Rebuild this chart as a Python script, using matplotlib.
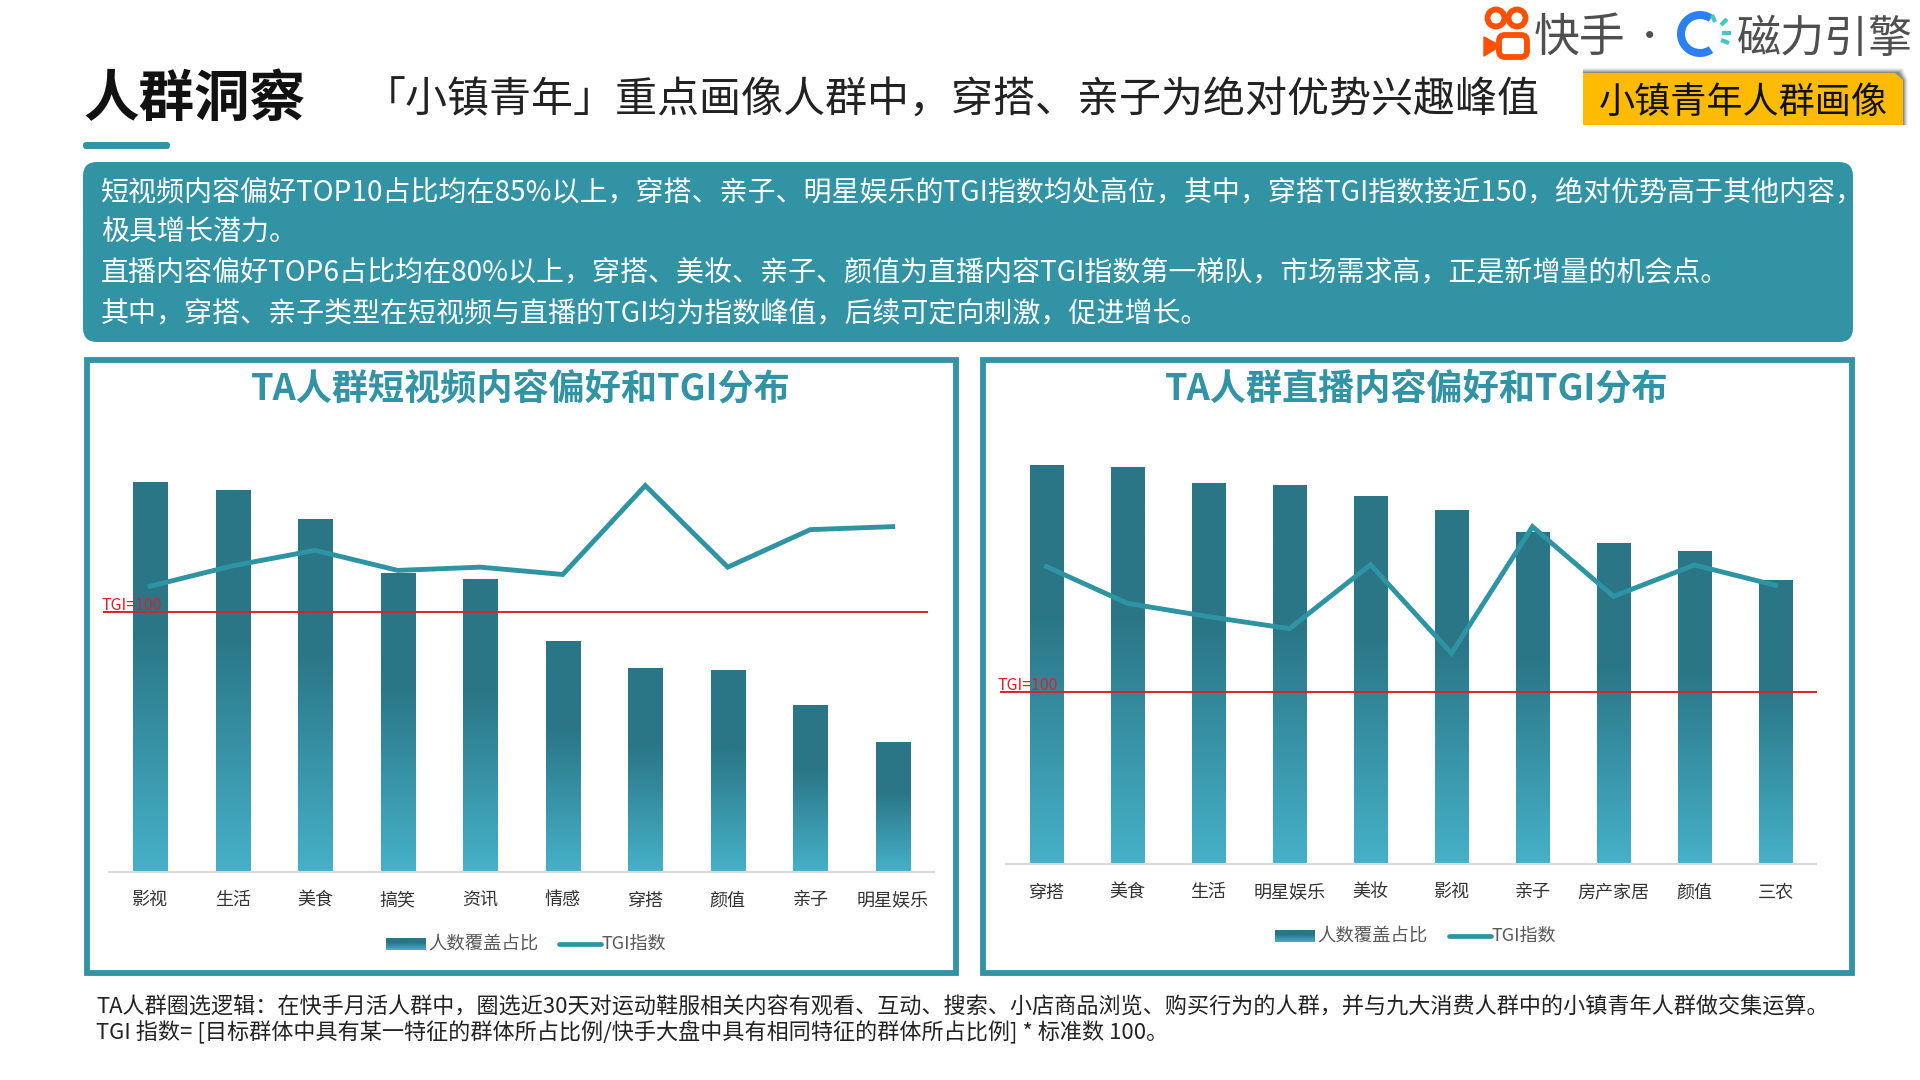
import numpy as np
import matplotlib
matplotlib.use('Agg')
import matplotlib.pyplot as plt
from matplotlib.colors import LinearSegmentedColormap
from matplotlib.patches import Circle, FancyBboxPatch, Polygon, Rectangle, Wedge

plt.rcParams['font.family'] = ['Noto Sans CJK SC', 'DejaVu Sans']

W, H = 1920, 1080
TEAL = '#3293A5'
LINE = '#2E93A3'
RED = '#D9222A'

# Data
short_cats = ['影视', '生活', '美食', '搞笑', '资讯', '情感', '穿搭', '颜值', '亲子', '明星娱乐']
short_share = [97.4, 95.4, 88.1, 74.6, 73.1, 57.6, 50.8, 50.3, 41.6, 32.4]
short_tgi = [109.5, 117.0, 122.7, 115.3, 116.5, 113.8, 146.5, 116.5, 130.3, 131.4]

live_cats = ['穿搭', '美食', '生活', '明星娱乐', '美妆', '影视', '亲子', '房产家居', '颜值', '三农']
live_share = [99.5, 99.1, 95.0, 94.5, 91.8, 88.3, 82.9, 80.0, 78.0, 70.8]
live_tgi = [137.6, 126.6, 122.6, 119.0, 138.2, 111.6, 149.6, 128.7, 138.1, 132.0]

body_lines = [
    '短视频内容偏好TOP10占比均在85%以上，穿搭、亲子、明星娱乐的TGI指数均处高位，其中，穿搭TGI指数接近150，绝对优势高于其他内容，',
    '极具增长潜力。',
    '直播内容偏好TOP6占比均在80%以上，穿搭、美妆、亲子、颜值为直播内容TGI指数第一梯队，市场需求高，正是新增量的机会点。',
    '其中，穿搭、亲子类型在短视频与直播的TGI均为指数峰值，后续可定向刺激，促进增长。',
]
foot_lines = [
    'TA人群圈选逻辑：在快手月活人群中，圈选近30天对运动鞋服相关内容有观看、互动、搜索、小店商品浏览、购买行为的人群，并与九大消费人群中的小镇青年人群做交集运算。',
    'TGI 指数= [目标群体中具有某一特征的群体所占比例/快手大盘中具有相同特征的群体所占比例] * 标准数 100。',
]

bar_cmap = LinearSegmentedColormap.from_list(
    'bar', [(0, '#2A7686'), (0.38, '#2A7686'), (1, '#46B1C8')])
grad = np.linspace(0, 1, 256).reshape(-1, 1)

fig = plt.figure(figsize=(W / 100, H / 100), dpi=100, facecolor='white')

# Full page layer in pixel coordinates, for the slide furniture
page = fig.add_axes([0, 0, 1, 1])
page.set_xlim(0, W)
page.set_ylim(H, 0)
page.axis('off')


def round_box(x0, y0, x1, y1, r, color):
    page.add_patch(FancyBboxPatch((x0 + r, y0 + r), x1 - x0 - 2 * r, y1 - y0 - 2 * r,
                                  boxstyle='round,pad=%d,rounding_size=%d' % (r, r),
                                  fc=color, ec='none'))


# Header
page.text(83, 100, '人群洞察', fontsize=40, fontweight='bold', color='#111111', va='center')
page.text(364, 101, '「小镇青年」重点画像人群中，穿搭、亲子为绝对优势兴趣峰值',
          fontsize=30.25, color='#222222', va='center')
round_box(83, 142, 170, 149, 3, TEAL)

# Badge with a soft shadow along the top
for i, a in zip([5, 4, 3, 2, 1], [0.08, 0.12, 0.18, 0.25, 0.35]):
    page.add_patch(Polygon([(1583, 73 - i), (1898 + i, 73 - i), (1903 + i, 80), (1903 + i, 125), (1583, 125)],
                           fc='#555555', ec='none', alpha=a))
page.add_patch(Polygon([(1583, 73), (1895, 73), (1903, 80), (1903, 125), (1583, 125)], fc='#FFBB00', ec='none'))
page.text(1743, 103, '小镇青年人群画像', fontsize=26, color='#111111', ha='center', va='center')

# Kuaishou logo
ORANGE = '#FF5000'
page.add_patch(Circle((1496, 18), 8.5, fc='none', ec=ORANGE, lw=4.2))
page.add_patch(Circle((1517, 18), 8.5, fc='none', ec=ORANGE, lw=4.2))
page.add_patch(FancyBboxPatch((1502, 38), 22, 16, boxstyle='round,pad=3,rounding_size=6', fc='white', ec=ORANGE, lw=4.2))
page.add_patch(Polygon([(1484, 37), (1484, 56), (1497, 48), (1497, 44)], fc=ORANGE, ec=ORANGE, lw=1, joinstyle='round'))
page.text(1534, 38, '快手', fontsize=33, color='#4F4F4F', va='center', fontweight='medium')
page.text(1650, 38, '·', fontsize=24, color='#4F4F4F', ha='center', va='center')

# Cili engine logo
page.add_patch(Wedge((1700, 34), 23, 55, 305, width=8, fc='#2A80F0', ec='none'))
for x0, y0, x1, y1 in [(1712, 15, 1715, 22), (1727, 19, 1721, 25), (1731, 33, 1722, 33), (1729, 43, 1721, 40)]:
    page.plot([x0, x1], [y0, y1], color='#45C7C0', lw=3, solid_capstyle='butt')
page.text(1737, 39, '磁力引擎', fontsize=31.7, color='#4F4F4F', va='center', fontweight='medium')

# Summary box
round_box(83, 162, 1853, 342, 14, TEAL)
for y, s in zip([193, 233, 273, 314], body_lines):
    page.text(101, y, s, fontsize=20.2, color='white', va='center')

# Footnote
for y, s in zip([1008, 1033], foot_lines):
    page.text(96, y, s, fontsize=15.9, color='#222222', va='center')


def draw_legend(swatch_x, line_x, y):
    page.imshow(bar_cmap(grad), extent=[swatch_x, swatch_x + 40, y + 6, y - 6], aspect='auto', zorder=2)
    page.text(swatch_x + 42, y, '人数覆盖占比', fontsize=13.2, color='#595959', va='center')
    page.plot([line_x, line_x + 42], [y, y], color=LINE, lw=3.4, solid_capstyle='round')
    page.text(line_x + 43, y, 'TGI指数', fontsize=13, color='#595959', va='center')


def draw_panel(frame, plot_x, baseline, title, cats, share, tgi, tgi_lim, red_x, red_y, bar_w):
    fx0, fx1 = frame
    page.add_patch(Rectangle((fx0 + 3, 360), fx1 - fx0 - 6, 612.5, fc='none', ec=TEAL, lw=4.2))
    page.text((fx0 + fx1) / 2 - 1, 389, title, fontsize=26, fontweight='bold', color=TEAL, ha='center', va='center')

    # Chart axes, 440 px tall above the baseline
    ax = fig.add_axes([plot_x[0] / W, 1 - baseline / H, (plot_x[1] - plot_x[0]) / W, 440 / H])
    ax.patch.set_alpha(0)
    x = np.arange(len(cats))
    bars = ax.bar(x, share, width=bar_w, color='none', linewidth=0)
    for b in bars:
        ax.imshow(bar_cmap(grad), extent=[b.get_x(), b.get_x() + b.get_width(), 0, b.get_height()],
                  aspect='auto', zorder=1)
    ax.set_xlim(-0.5, len(cats) - 0.5)
    ax.set_ylim(0, 110)
    ax.set_xticks(x)
    ax.set_xticklabels(cats, fontsize=13, color='#333333')
    ax.tick_params(axis='x', length=0, pad=14)
    ax.set_yticks([])
    for side in ['top', 'left', 'right']:
        ax.spines[side].set_visible(False)
    ax.spines['bottom'].set_color('#D9D9D9')
    ax.spines['bottom'].set_linewidth(1.5)

    ax2 = ax.twinx()
    ax2.set_ylim(*tgi_lim)
    ax2.set_yticks([])
    for side in ax2.spines:
        ax2.spines[side].set_visible(False)
    ax2.plot(x, tgi, color=LINE, lw=3.5, solid_joinstyle='miter', zorder=3)
    ax2.hlines(100, red_x[0], red_x[1], color=RED, lw=1.4, zorder=4, clip_on=False)
    page.text(red_y[0], red_y[1], 'TGI=100', fontsize=11.5, color=RED, va='center', zorder=5)


draw_panel((84, 959), (109, 934), 872, 'TA人群短视频内容偏好和TGI分布',
           short_cats, short_share, short_tgi, (4.4, 166.2), (-0.573, 9.43), (101, 605), 0.415)
draw_panel((980, 1855), (1006, 1816), 864, 'TA人群直播内容偏好和TGI分布',
           live_cats, live_share, live_tgi, (48.4, 180.4), (-0.58, 9.51), (997, 685), 0.415)

draw_legend(386, 559, 944)
draw_legend(1275, 1449, 936)

page.set_xlim(0, W)
page.set_ylim(H, 0)
page.set_zorder(5)
page.patch.set_alpha(0)

fig.savefig('out.png', dpi=100)
